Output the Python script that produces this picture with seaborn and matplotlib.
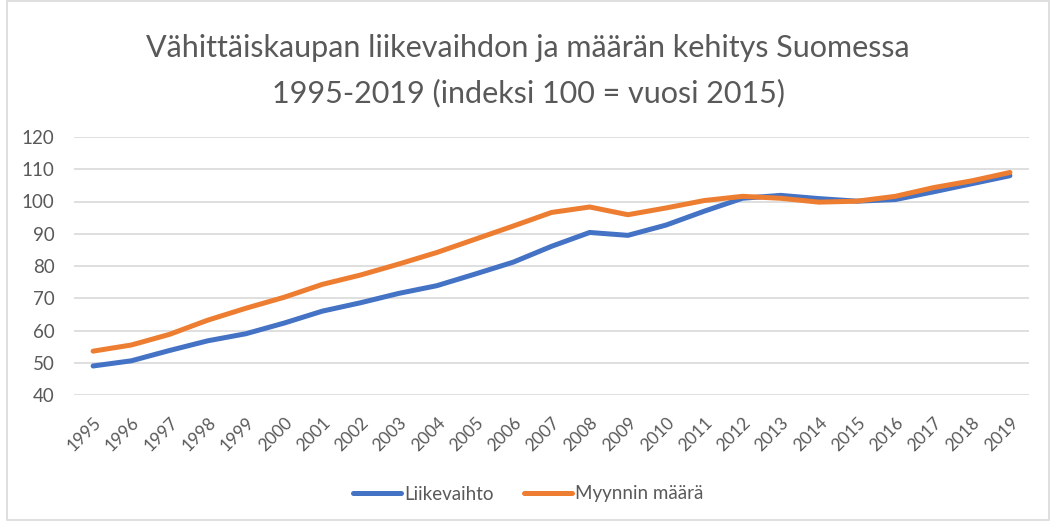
import numpy as np
import pandas as pd
import matplotlib
matplotlib.use("Agg")
from matplotlib import pyplot as plt
from matplotlib.patches import Rectangle
import seaborn as sns

sns.set_style("white")
plt.rcParams['font.family'] = ['Lato', 'DejaVu Sans']

# Data -------------------------------------------------------------------------
years = list(range(1995, 2020))
liikevaihto = [49.0, 50.6, 53.8, 56.8, 59.0, 62.3, 66.0, 68.6, 71.5, 73.9, 77.5,
               81.2, 86.1, 90.4, 89.5, 92.7, 97.0, 101.0, 101.9, 100.9, 100.1,
               100.6, 103.0, 105.5, 108.0]
myynnin_maara = [53.6, 55.5, 58.8, 63.2, 66.9, 70.3, 74.3, 77.2, 80.6, 84.2, 88.3,
                 92.4, 96.6, 98.3, 95.9, 98.0, 100.3, 101.6, 101.0, 99.8, 100.1,
                 101.6, 104.3, 106.4, 109.0]
series_names = ["Liikevaihto", "Myynnin määrä"]
colors = ["#4472C4", "#ED7D31"]

df = pd.DataFrame({
    "vuosi": years * 2,
    "indeksi": liikevaihto + myynnin_maara,
    "sarja": [series_names[0]] * len(years) + [series_names[1]] * len(years),
})

# Plot -------------------------------------------------------------------------
fig = plt.figure(figsize=(10.56, 5.21), dpi=100)
ax = fig.add_axes([74 / 1056, 1 - 395 / 521, (1029 - 74) / 1056, (395 - 137) / 521])

sns.lineplot(data=df, x="vuosi", y="indeksi", hue="sarja", palette=colors,
             linewidth=3.6, ax=ax, legend=False)

ax.set_xlim(1994.5, 2019.5)
ax.set_ylim(40, 120)
ax.set_yticks(range(40, 121, 10))
ax.set_xticks(years)
ax.set_xticklabels([str(y) for y in years], rotation=45, ha="right",
                   rotation_mode="anchor", fontsize=12.5, color="#595959")
ax.tick_params(axis="y", labelsize=13.5, labelcolor="#595959", length=0, pad=14)
ax.tick_params(axis="x", length=0, pad=14)
ax.set_xlabel("")
ax.set_ylabel("")
ax.grid(axis="y", color="#d9d9d9", linewidth=1.2)
ax.set_axisbelow(True)
for s in ax.spines.values():
    s.set_visible(False)

fig.text(0.5, 1 - 48 / 521, "Vähittäiskaupan liikevaihdon ja määrän kehitys Suomessa",
         ha="center", va="center", fontsize=22, color="#595959")
fig.text(0.5, 1 - 93 / 521, "1995-2019 (indeksi 100 = vuosi 2015)",
         ha="center", va="center", fontsize=22, color="#595959")

# legend
handles = [plt.Line2D([0], [0], color=c, linewidth=3.6, solid_capstyle="round") for c in colors]
fig.legend(handles, series_names, loc="center", bbox_to_anchor=(0.5, 1 - 494 / 521),
           ncol=2, frameon=False, fontsize=13.5, labelcolor="#595959",
           handlelength=2.6, handletextpad=0.15, columnspacing=1.6)

# chart frame
fig.patches.append(Rectangle((7 / 1056, 0.002), 1 - 14 / 1056, 0.996, transform=fig.transFigure,
                             fill=False, edgecolor="#d9d9d9", linewidth=1.2))

fig.savefig("out.png", dpi=100)
